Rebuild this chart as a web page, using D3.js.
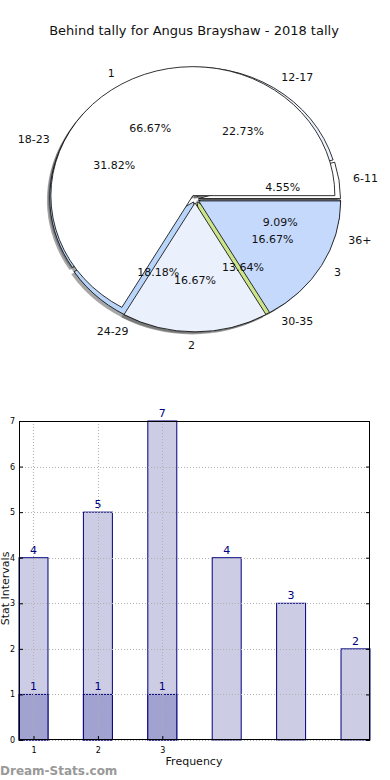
<!DOCTYPE html>
<html><head><meta charset="utf-8">
<script src="https://cdn.jsdelivr.net/npm/d3@7/dist/d3.min.js"></script>
<style>body{margin:0;background:#fff}svg{display:block}text{font-family:"DejaVu Sans",sans-serif}</style>
</head><body><svg id="c" width="390" height="780"></svg>
<script>
const title = "Behind tally for Angus Brayshaw - 2018 tally";
const outerLabels = ["1","2","3"];
const outerValues = [4,1,1];
const outerColors = ["#ffffff","#eaf0fc","#c5d9fc"];
const ageLabels = ["6-11","12-17","18-23","24-29","30-35","36+"];
const ageValues = [1,5,7,4,3,2];
const ageColors = ["#ffffff","#eef3fd","#b9d5fa","#b9d5fa","#cde58a","#c5d9fc"];
const barTicks = ["1","2","3"];
const barTotals = [4,5,7,4,3,2];
const barSub = [1,1,1];
const yTicks = [0,1,2,3,4,5,6,7];

const svg = d3.select("#c");
svg.append("text").attr("x",194).attr("y",35).attr("text-anchor","middle")
  .style("font-size","13px").attr("fill","#111").text(title);

const cx=195, cy=199, rx=142, ry=129;
const pieGen = d3.pie().sort(null).startAngle(Math.PI/2).endAngle(Math.PI/2-2*Math.PI);
const arc = d3.arc().innerRadius(0).outerRadius(1);
const fmt = d3.format(".2f");

function layout(labels, values, colors, explode){
  const sum = d3.sum(values);
  return pieGen(values).map((a,i)=>{
    const m=(a.startAngle+a.endAngle)/2;
    const ox = cx + explode*Math.sin(m)*rx, oy = cy - explode*Math.cos(m)*ry;
    return {a,m,ox,oy,color:colors[i],label:labels[i],pct:fmt(values[i]/sum*100)+"%"};
  });
}
const ageInfo = layout(ageLabels, ageValues, ageColors, 0.025);
const outInfo = layout(outerLabels, outerValues, outerColors, 0.03);
const shadowG = svg.append("g");
const wedgeG = svg.append("g");
[ageInfo, outInfo].forEach(info=>{
  info.forEach(d=>{
    shadowG.append("path").attr("d",arc(d.a))
      .attr("transform",`translate(${d.ox-0.02*rx},${d.oy+0.02*ry}) scale(${rx},${ry})`)
      .attr("fill","#4d4d4d").attr("fill-opacity",0.5).attr("stroke","none");
  });
  info.forEach(d=>{
    wedgeG.append("path").attr("d",arc(d.a))
      .attr("transform",`translate(${d.ox},${d.oy}) scale(${rx},${ry})`)
      .attr("fill",d.color).attr("stroke","#000").attr("stroke-width",0.8)
      .attr("vector-effect","non-scaling-stroke").attr("stroke-linejoin","round");
  });
});
const lg = svg.append("g").style("font-size","11px").attr("fill","#111");
[...ageInfo, ...outInfo].forEach(d=>{
  const s=Math.sin(d.m), c=Math.cos(d.m);
  lg.append("text").attr("x",d.ox+1.1*s*rx).attr("y",d.oy-1.1*c*ry)
    .attr("dy","0.35em").attr("text-anchor", s>=0?"start":"end").text(d.label);
  lg.append("text").attr("x",d.ox+0.6*s*rx).attr("y",d.oy-0.6*c*ry)
    .attr("dy","0.35em").attr("text-anchor","middle").text(d.pct);
});

// Bar chart
const L=19,R=370,T=421,B=740;
const x = d3.scaleLinear().domain([0.775,6.225]).range([L,R]);
const y = d3.scaleLinear().domain([0,7]).range([B,T]);
const bw = 0.45;
const bg = svg.append("g");
bg.selectAll("rect.t").data(barTotals).join("rect")
  .attr("x",(d,i)=>x(i+1-bw/2)).attr("width",x(1+bw/2)-x(1-bw/2))
  .attr("y",d=>y(d)).attr("height",d=>y(0)-y(d))
  .attr("fill","#cccce4").attr("stroke","#000080").attr("stroke-width",1);
bg.selectAll("rect.s").data(barSub).join("rect")
  .attr("x",(d,i)=>x(i+1-bw/2)).attr("width",x(1+bw/2)-x(1-bw/2))
  .attr("y",d=>y(d)).attr("height",d=>y(0)-y(d))
  .attr("fill","#a2a2d0").attr("stroke","#000080").attr("stroke-width",1);
// grid
const gg = svg.append("g").attr("stroke","#b0b0b0").attr("stroke-width",1).attr("stroke-dasharray","1,2");
yTicks.forEach(t=>gg.append("line").attr("x1",L).attr("x2",R).attr("y1",Math.round(y(t))+0.5).attr("y2",Math.round(y(t))+0.5));
barTicks.forEach((t,i)=>gg.append("line").attr("x1",Math.round(x(i+1))+0.5).attr("x2",Math.round(x(i+1))+0.5).attr("y1",T).attr("y2",B));
// frame
svg.append("rect").attr("x",L+0.5).attr("y",T+0.5).attr("width",R-L-1).attr("height",B-T-1)
  .attr("fill","none").attr("stroke","#000").attr("stroke-width",1);
// axes ticks
const yAx = svg.append("g").attr("transform",`translate(${L},0)`)
  .call(d3.axisLeft(y).tickValues(yTicks).tickSize(-4).tickPadding(4).tickFormat(d3.format("d")));
yAx.select(".domain").remove();
yAx.selectAll("text").style("font-size","8px").style("font-family","DejaVu Sans");
const yAxR = svg.append("g").attr("transform",`translate(${R},0)`)
  .call(d3.axisRight(y).tickValues(yTicks).tickSize(-4).tickFormat(""));
yAxR.select(".domain").remove();
const xAx = svg.append("g").attr("transform",`translate(0,${B})`)
  .call(d3.axisBottom(x).tickValues([1,2,3]).tickSize(-4).tickPadding(7).tickFormat((d,i)=>barTicks[i]));
xAx.select(".domain").remove();
xAx.selectAll("text").style("font-size","8px").style("font-family","DejaVu Sans");
// value labels
const vl = svg.append("g").style("font-size","11px").attr("fill","#000080").attr("text-anchor","middle");
barTotals.forEach((d,i)=>vl.append("text").attr("x",x(i+1)).attr("y",y(d)-4).text(d));
barSub.forEach((d,i)=>vl.append("text").attr("x",x(i+1)).attr("y",y(d)-4).text(d));
svg.append("text").attr("transform",`translate(9,${(T+B)/2 + 8}) rotate(-90)`).attr("text-anchor","middle")
  .style("font-size","11px").attr("fill","#111").text("Stat Intervals");
svg.append("text").attr("x",194).attr("y",765).attr("text-anchor","middle")
  .style("font-size","11px").attr("fill","#111").text("Frequency");
svg.append("text").attr("x",0).attr("y",775).style("font-size","12px")
  .attr("fill","#999").style("font-weight","600").text("Dream-Stats.com");
</script></body></html>
